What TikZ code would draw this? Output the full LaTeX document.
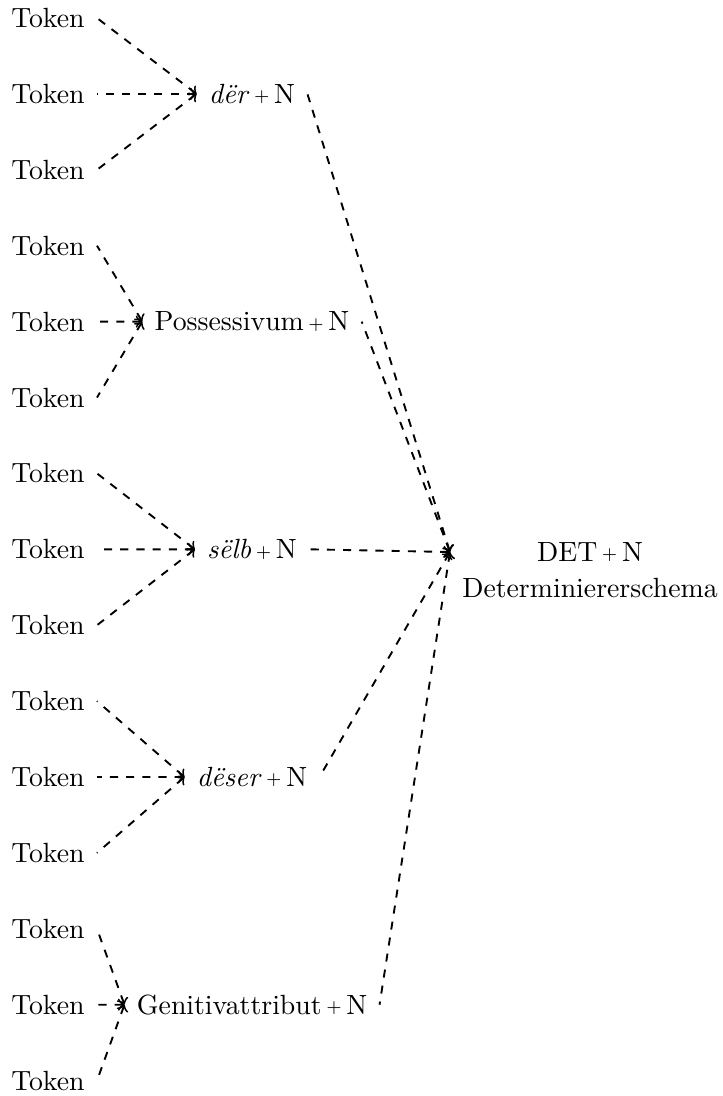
\documentclass[tikz,border=0pt]{standalone}
\usepackage{fontspec}
\begin{document}
% small raised plus sign used between the schema parts
\newcommand\smallplus{\,\raisebox{0.6pt}{\fontsize{6.5}{7}\selectfont +}\,}
\begin{tikzpicture}[x=0.3707pt,y=-0.3707pt,
  every node/.style={font=\fontsize{10.3}{13.3}\selectfont, inner xsep=4.4pt, inner ysep=2pt},
  tok/.style={anchor=east},
  grp/.style={anchor=center},
  link/.style={<-, dashed, line width=0.7pt}]
\useasboundingbox (0,0) rectangle (723,1096);

% token column
\foreach \i in {0,...,14}
  \node[tok] (t\i) at (97,{18+75.9*\i}) {Token};

% intermediate schemas
\node[grp] (g1) at (252,93.9)   {\textit{dër}\smallplus N};
\node[grp] (g2) at (252,321.6)  {Possessivum\smallplus N};
\node[grp] (g3) at (252,549.3)  {\textit{sëlb}\smallplus N};
\node[grp] (g4) at (252,777.0)  {\textit{dëser}\smallplus N};
\node[grp] (g5) at (252,1004.7) {Genitivattribut\smallplus N};

% top schema
\node[align=center] (det) at (590,570) {DET\smallplus N\\Determiniererschema};
\coordinate (detin) at (450,552);

% tokens to schemas
\foreach \g/\a/\b/\c in {1/0/1/2, 2/3/4/5, 3/6/7/8, 4/9/10/11, 5/12/13/14}{
  \draw[link] (g\g.west) -- (t\a.east);
  \draw[link] (g\g.west) -- (t\b.east);
  \draw[link] (g\g.west) -- (t\c.east);
}

% schemas to the determiner schema
\foreach \g in {1,...,5}
  \draw[link] (detin) -- (g\g.east);
\end{tikzpicture}
\end{document}
